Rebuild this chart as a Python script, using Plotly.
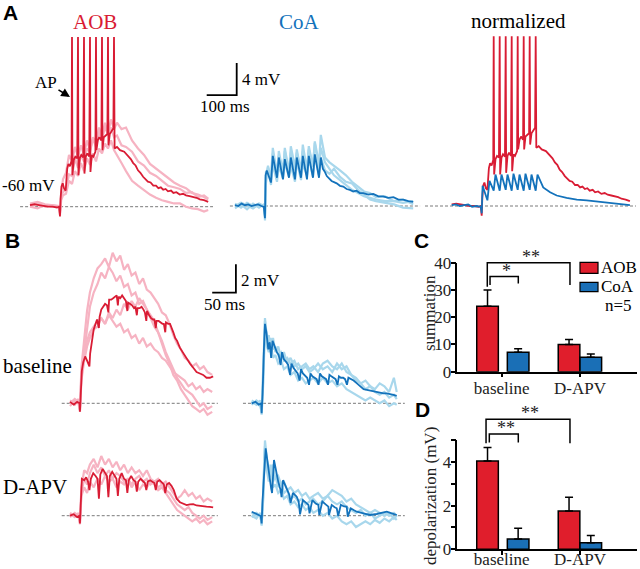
import plotly.graph_objects as go

W, H = 640, 569
SERIF = "Liberation Serif"
SANS = "Liberation Sans"

RED = "#d91c34"
PINK = "#f6b3c2"
BLUE = "#1372bb"
SKY = "#a8d7ec"
BAR_RED = "#e01e2c"
BAR_BLUE = "#1a6fb6"
GREY = "#7a7a7a"

# ---------------- A: 10 pulses at 50 Hz (t in ms from trace start, v in mV above -60 mV)
a_spike_times = [140, 160, 180, 200, 220, 240, 260, 280]
a_spike_peak = 21.0

a_aob_t = [0, 15, 30, 45, 60, 75, 90, 97, 100, 102, 105, 109, 114, 119, 121, 124, 128, 133, 138.5,
           141.5, 146, 151, 157.5, 161.5, 166, 171, 177.5, 181.5, 186, 191, 197.5, 201.5, 206, 211, 218,
           221.5, 226, 231, 238, 241.5, 246, 251, 258, 261.5, 266, 271, 278, 282, 290, 300, 314, 328,
           336, 344, 352, 360, 368, 377, 385, 393, 402, 411, 420, 428, 436, 444, 452, 460, 470, 478,
           488, 499, 510, 520, 532, 544, 555, 566, 580, 594]
a_aob_v = [0.2, 0.3, 0.2, 0.1, 0.0, 0.0, -0.1, 0.0, -1.2, 1.0, 2.5, 2.9, 2.2, 2.0, 3.2, 4.7, 5.3, 5.0, 5.7,
           3.9, 5.8, 6.2, 6.0, 3.9, 6.0, 6.4, 6.1, 4.1, 6.2, 6.6, 6.2, 4.3, 6.4, 6.2, 6.8,
           7.0, 8.2, 8.6, 8.2, 7.0, 8.6, 8.8, 9.0, 7.6, 9.0, 9.3, 9.7, 7.2, 7.4, 7.0, 6.8, 6.2,
           5.9, 5.4, 5.1, 4.5, 4.2, 3.7, 3.4, 3.1, 3.0, 2.6, 2.6, 2.3, 2.4, 2.1, 2.2, 1.9, 2.0, 1.7,
           1.8, 1.5, 1.6, 1.4, 1.3, 1.2, 1.1, 0.9, 0.8, 0.6]

a_aob_light_t = [0, 25, 50, 75, 97, 100, 104, 110, 120, 130, 140, 150, 160, 170, 180, 190, 200, 210,
                 220, 230, 240, 250, 260, 270, 280, 290, 305, 320, 340, 360, 380, 400, 420, 440, 460,
                 480, 500, 520, 540, 560, 580, 594]
a_aob_light = [
    [0.4, 0.6, 0.3, 0.2, 0.1, -0.6, 1.8, 3.4, 4.2, 6.4, 5.6, 7.4, 6.2, 7.6, 6.4, 8.2, 7.0, 8.6,
     7.8, 9.8, 8.6, 10.4, 9.0, 10.8, 9.6, 10.4, 9.6, 9.8, 8.2, 7.2, 6.4, 5.3, 4.7, 4.1, 3.6,
     3.0, 2.6, 2.3, 1.7, 1.5, 1.2, 0.9],
    [0.0, -0.2, 0.2, 0.0, 0.1, -1.0, 1.4, 1.8, 2.2, 4.0, 3.8, 6.0, 4.8, 6.4, 5.6, 7.2, 6.8, 8.4,
     7.4, 9.2, 8.4, 9.8, 9.0, 9.8, 8.6, 8.8, 7.6, 7.4, 6.8, 5.6, 5.1, 4.2, 3.8, 3.2, 2.6,
     2.4, 2.2, 1.7, 1.8, 1.2, 1.4, 1.0],
    [0.2, 0.4, 0.0, 0.2, 0.0, -0.8, 0.8, 1.4, 1.6, 3.2, 2.8, 4.4, 3.8, 5.4, 4.4, 6.0, 5.2, 6.6,
     5.6, 7.2, 6.6, 7.8, 7.2, 8.2, 7.0, 6.4, 5.4, 4.4, 3.2, 2.6, 2.0, 1.5, 1.1, 0.8, 0.6,
     0.4, 0.4, 0.0, -0.2, -0.3, -0.6, -0.4],
]

a_coa_t = [0, 11, 22, 33, 44, 55, 66, 77, 88, 96, 100, 102, 106, 110, 116, 120, 126, 133, 140, 146,
           153, 160, 166, 173, 180, 186, 193, 200, 206, 213, 220, 226, 233, 240, 246, 253, 260, 266,
           273, 280, 286, 293, 300, 306, 322, 339, 350, 361, 372, 383, 394, 405, 416, 428, 444, 461,
           478, 494, 511, 528, 545, 561, 578, 594]
a_coa_v = [0.1, 0.0, 0.3, 0.1, 0.2, 0.0, 0.1, 0.2, 0.0, -0.1, -1.5, 3.8, 4.4, 4.0, 3.2, 2.9, 6.2, 4.6,
           3.5, 6.0, 4.4, 3.3, 5.8, 4.4, 3.5, 6.0, 4.5, 3.3, 6.0, 4.6, 3.5, 6.2, 4.6, 3.3, 6.2, 4.6,
           3.5, 6.4, 4.8, 3.5, 6.0, 4.6, 4.2, 3.7, 3.1, 2.8, 2.5, 2.4, 2.1, 2.0, 1.8, 1.9, 1.6, 1.6,
           1.4, 1.5, 1.2, 1.2, 1.0, 1.1, 0.8, 0.8, 0.6, 0.5]

a_coa_light_t = [0, 20, 40, 60, 80, 96, 100, 103, 110, 120, 126, 140, 146, 160, 166, 180, 186, 200,
                 206, 220, 226, 240, 246, 260, 266, 280, 286, 300, 315, 330, 350, 370, 390, 410,
                 430, 450, 470, 500, 530, 560, 594]
a_coa_light = [
    [0.3, -0.2, 0.4, 0.0, 0.3, 0.0, -1.2, 3.5, 5.0, 3.0, 6.5, 3.8, 6.8, 4.0, 7.2, 4.2, 6.6, 4.4,
     7.0, 4.2, 6.8, 4.6, 7.4, 4.8, 8.0, 5.2, 8.8, 6.0, 5.4, 5.0, 4.4, 3.8, 3.0, 2.4, 1.8, 1.6,
     1.1, 1.2, 0.6, 0.8, 0.2],
    [-0.3, 0.2, -0.4, 0.3, -0.2, 0.2, -1.8, 4.2, 4.5, 2.6, 5.2, 3.0, 5.0, 3.4, 5.4, 3.6, 5.0, 3.0,
     5.6, 3.2, 5.2, 3.8, 6.0, 3.6, 6.4, 3.8, 6.0, 4.4, 4.0, 4.6, 3.6, 3.0, 2.8, 2.0, 1.4, 0.8,
     0.6, 0.4, 0.2, -0.2, -0.3],
    [0.0, 0.4, 0.1, -0.3, 0.2, 0.0, -1.0, 2.8, 4.8, 3.6, 7.2, 4.0, 6.2, 4.6, 6.8, 4.0, 7.4, 4.8,
     6.6, 4.4, 7.6, 4.4, 7.0, 5.0, 7.8, 4.6, 7.2, 5.4, 4.6, 3.8, 3.2, 2.6, 2.0, 1.6, 1.2, 1.0,
     0.8, 0.6, 0.6, 0.4, 0.6],
]

# normalized panel: AOB is its own reference, CoA scaled to the AOB first EPSP
a_norm_coa_t = [0, 14, 27, 41, 55, 68, 82, 97, 100, 103, 110, 119, 126, 133, 140, 146, 153, 160, 166,
                173, 180, 186, 193, 200, 206, 213, 220, 226, 233, 240, 246, 253, 260, 266, 273, 280,
                286, 295, 305, 328, 350, 383, 417, 450, 494, 538, 594]
a_norm_coa_v = [0.1, 0.2, 0.0, 0.1, 0.2, -0.1, 0.0, -0.1, -0.9, 2.5, 1.6, 0.7, 3.1, 2.6, 1.9, 3.9,
                2.9, 1.9, 3.9, 2.9, 2.0, 3.9, 2.9, 1.9, 4.0, 3.0, 2.0, 3.9, 2.9, 1.9, 4.0, 3.0, 2.0,
                3.9, 2.9, 1.9, 3.9, 3.1, 2.3, 1.7, 1.3, 1.0, 0.8, 0.7, 0.5, 0.3, 0.1]

# ---------------- B: baseline vs D-APV (t in ms, v in mV)
b_aob_base_t = [0, 8, 15, 20, 21, 22.5, 25, 28, 32, 36, 41, 42.5, 46, 50, 54, 57, 61, 62.5, 66, 70,
                74, 78, 81, 82.5, 87, 91, 95, 98.5, 101, 102.5, 106, 110, 114, 118, 121, 122.5, 127,
                131, 135, 138, 141, 142.5, 147, 151, 155, 158, 161, 162.5, 167, 171, 175, 178, 181,
                182.5, 187, 191, 195, 198, 201, 202.5, 207, 211, 215, 218, 222, 226, 232, 239, 246,
                253, 260, 267, 274, 281, 288, 295, 302]
b_aob_base_v = [0.1, -0.1, 0.1, 0.0, -0.6, 1.0, 2.3, 2.9, 3.3, 3.0, 2.6, 3.5, 4.4, 5.2, 5.6, 5.9, 5.3,
                6.1, 6.6, 6.8, 7.0, 6.9, 6.4, 7.3, 7.3, 7.4, 7.5, 7.6, 6.9, 7.5, 7.4, 7.6, 7.4, 7.2,
                6.5, 7.1, 7.0, 6.9, 6.7, 6.8, 6.2, 6.7, 6.7, 6.8, 6.6, 6.4, 5.8, 6.5, 6.2, 6.0, 5.9,
                5.9, 5.3, 5.8, 5.8, 5.7, 5.6, 5.6, 5.0, 5.7, 5.6, 5.6, 5.3, 5.0, 4.6, 4.4, 3.9, 3.5,
                3.1, 2.8, 2.5, 2.2, 2.1, 2.0, 1.8, 1.8, 1.9]

b_aob_apv_t = [0, 8, 15, 20, 21, 22.5, 25, 30, 34, 38, 41, 44, 49, 54, 58, 61, 64, 69, 74, 78, 81,
               84, 89, 94, 98, 101, 104, 109, 114, 118, 121, 124, 129, 134, 138, 141, 144, 149, 154,
               158, 161, 164, 169, 174, 178, 181, 184, 189, 194, 198, 201, 204, 209, 214, 219, 225,
               232, 239, 246, 253, 260, 267, 274, 281, 288, 295, 302]
b_aob_apv_v = [0.0, 0.1, -0.1, 0.0, -0.55, 1.0, 2.6, 2.5, 2.7, 2.4, 1.8, 2.6, 3.0, 2.8, 2.6, 1.2, 2.9,
               3.3, 3.0, 2.8, 1.3, 2.8, 3.1, 2.8, 2.6, 1.4, 2.6, 3.0, 2.6, 2.5, 1.6, 2.5, 2.8, 2.5,
               2.4, 1.7, 2.4, 2.6, 2.4, 2.3, 1.8, 2.4, 2.5, 2.4, 2.3, 1.8, 2.4, 2.5, 2.3, 2.2, 1.6,
               2.2, 2.3, 2.1, 1.8, 1.2, 0.95, 0.85, 0.75, 0.8, 0.82, 0.72, 0.68, 0.66, 0.64, 0.62,
               0.59]

b_aob_light_t = [0, 10, 18, 21, 24, 30, 36, 42, 50, 58, 66, 74, 82, 90, 98, 106, 114, 122, 130, 138,
                 146, 154, 162, 170, 178, 186, 194, 202, 210, 218, 226, 234, 242, 250, 258, 266,
                 274, 282, 290, 300]
b_aob_base_light = [
    [0.2, 0.0, 0.3, -0.5, 2.5, 4.5, 6.5, 7.8, 8.8, 9.5, 9.8, 10.2, 9.6, 10.6, 10.0, 10.4, 9.4, 9.8,
     9.0, 9.2, 8.4, 8.8, 8.0, 7.8, 7.4, 7.0, 6.4, 6.2, 5.6, 4.8, 4.2, 3.8, 3.2, 3.0, 2.6, 2.8,
     2.4, 2.6, 2.2, 2.0],
    [0.0, 0.3, 0.1, -0.4, 2.0, 3.8, 5.2, 6.8, 7.8, 8.4, 9.2, 8.8, 9.6, 9.2, 8.6, 9.0, 8.2, 8.4,
     7.6, 7.8, 7.0, 7.2, 6.6, 6.0, 5.4, 5.0, 4.4, 3.6, 3.0, 2.4, 1.8, 1.4, 1.0, 0.8, 0.6, 0.2,
     -0.2, 0.0, -0.4, -0.2],
    [-0.2, 0.2, 0.0, -0.6, 1.6, 3.0, 4.0, 4.6, 5.2, 5.4, 6.0, 5.6, 6.4, 6.0, 6.6, 6.2, 7.0, 6.6,
     7.2, 6.8, 7.4, 7.0, 6.6, 6.2, 5.8, 5.0, 4.2, 3.4, 2.8, 2.0, 1.6, 1.0, 0.6, 0.2, -0.2, -0.4,
     -0.6, -0.4, -0.8, -0.6],
    [0.1, -0.1, 0.2, -0.5, 1.8, 3.4, 4.4, 5.0, 5.4, 5.8, 6.0, 5.6, 6.2, 5.8, 5.4, 5.6, 5.0, 5.2,
     4.6, 4.8, 4.2, 4.6, 4.0, 4.2, 3.8, 3.6, 3.2, 3.0, 2.6, 2.2, 2.0, 1.8, 1.6, 1.2, 1.4, 1.0,
     1.2, 0.8, 1.0, 0.8],
]
b_aob_apv_light = [
    [0.1, -0.1, 0.2, -0.5, 2.0, 3.2, 3.0, 3.6, 4.0, 3.4, 4.2, 3.6, 4.0, 3.4, 3.8, 3.2, 3.6, 3.0,
     3.4, 3.0, 3.2, 2.8, 3.2, 2.6, 2.4, 2.6, 2.2, 2.4, 2.0, 1.6, 1.2, 1.4, 1.8, 1.4, 1.6, 1.2,
     1.4, 1.0, 1.2, 1.0],
    [-0.1, 0.2, 0.0, -0.6, 1.4, 2.0, 1.6, 2.4, 2.0, 2.6, 2.2, 2.8, 2.4, 2.6, 2.0, 2.4, 2.2, 2.6,
     2.0, 2.4, 1.8, 2.2, 2.0, 2.4, 2.2, 1.8, 2.0, 1.6, 1.2, 0.8, 0.4, 0.2, 0.0, -0.2, -0.4, -0.2,
     -0.5, -0.3, -0.6, -0.4],
    [0.2, 0.0, 0.1, -0.4, 1.6, 2.6, 2.2, 3.0, 3.6, 3.0, 3.4, 2.8, 3.2, 2.6, 3.0, 2.8, 2.4, 2.6,
     2.2, 2.6, 2.8, 2.4, 2.6, 2.2, 2.4, 2.0, 2.2, 1.8, 1.6, 1.2, 0.8, 0.6, 0.4, 0.6, 0.2, 0.0,
     -0.2, 0.0, -0.3, -0.1],
]

b_coa_base_t = [0, 8, 15, 20, 21, 23, 26, 28, 31, 35, 38, 41, 44, 48, 53, 57, 61, 64, 68, 73, 77, 81,
                84, 88, 93, 97, 101, 104, 108, 113, 117, 121, 124, 128, 133, 137, 141, 144, 148, 153,
                157, 161, 164, 168, 173, 177, 181, 184, 188, 193, 197, 201, 204, 210, 215, 222, 229,
                236, 243, 250, 257, 264, 271, 278, 285, 292, 299, 306]
b_coa_base_v = [0.0, 0.1, -0.1, 0.0, -0.7, 0.7, 4.0, 5.6, 5.0, 3.8, 4.3, 3.2, 4.4, 4.0, 3.6, 3.4, 2.7,
                3.6, 3.1, 2.9, 2.7, 2.0, 2.8, 2.5, 2.3, 2.1, 1.6, 2.4, 2.1, 1.9, 1.8, 1.3, 2.1, 1.9,
                1.8, 1.7, 1.3, 2.1, 1.9, 1.8, 1.7, 1.3, 2.0, 1.9, 1.8, 1.7, 1.3, 1.9, 1.8, 1.8, 1.7,
                1.3, 1.8, 1.7, 1.6, 1.4, 1.2, 1.0, 0.95, 0.9, 0.82, 0.75, 0.7, 0.7, 0.7, 0.62, 0.59,
                0.52]

b_coa_apv_t = [0, 10.5, 19, 21, 23, 29.5, 35, 41, 43, 47, 56, 61, 63, 66, 72, 79, 82, 87, 95, 99, 102,
               108, 115, 119.6, 122, 128, 135, 140.7, 142.5, 149, 156, 161.8, 163, 168.8, 175, 179.4,
               182.5, 188, 195, 200.5, 202.6, 209, 215, 221.6, 235.7, 249.7, 263.8, 277.9, 284.9,
               295.5, 306]
b_coa_apv_v = [0.28, 0.12, -0.02, -0.54, 1.1, 4.75, 3.22, 1.93, 1.6, 3.92, 2.4, 1.8, 1.3, 2.5, 2.04,
               1.5, 0.9, 1.6, 1.34, 1.0, 0.1, 1.1, 0.9, 0.76, 0.17, 1.1, 0.85, 0.76, 0.05, 1.0, 0.8,
               0.64, 0.05, 0.76, 0.6, 0.52, -0.02, 0.76, 0.65, 0.64, -0.07, 0.52, 0.4, 0.28, 0.17,
               0.05, 0.12, 0.21, 0.28, 0.17, 0.05]

b_coa_light_t = [0, 10, 18, 21, 24, 28, 32, 36, 40, 45, 50, 56, 62, 68, 75, 82, 90, 98, 106, 114, 122,
                 130, 140, 150, 160, 170, 180, 190, 200, 210, 220, 230, 240, 250, 260, 270, 280, 290,
                 300, 306]
b_coa_base_light = [
    [0.1, -0.1, 0.2, -0.6, 1.5, 6.0, 4.4, 4.8, 3.8, 4.6, 3.6, 4.0, 3.2, 3.6, 2.8, 3.2, 2.6, 2.8,
     2.4, 2.6, 2.2, 2.4, 2.8, 2.4, 2.6, 2.2, 2.8, 2.4, 2.6, 2.0, 1.6, 1.4, 1.0, 1.2, 0.8, 0.6,
     0.8, 0.4, 0.6, 0.3],
    [-0.1, 0.2, 0.0, -0.8, 1.2, 5.2, 4.0, 3.6, 4.2, 3.2, 3.4, 2.8, 3.0, 2.4, 2.6, 2.0, 2.2, 1.6,
     1.8, 1.4, 1.6, 1.8, 1.4, 1.8, 1.4, 1.6, 1.2, 1.4, 1.0, 0.8, 0.6, 0.4, 0.2, 0.4, 0.2, 0.0,
     0.2, -0.2, 0.0, -0.1],
    [0.2, 0.0, -0.2, -0.5, 1.8, 5.8, 4.8, 4.2, 4.6, 3.8, 4.0, 3.4, 3.6, 3.0, 3.2, 2.8, 3.0, 2.4,
     2.6, 2.8, 2.4, 2.6, 2.2, 2.8, 3.0, 2.6, 2.4, 2.8, 2.2, 2.0, 1.8, 1.4, 1.6, 1.2, 1.0, 1.4,
     1.2, 0.8, 1.8, 0.8],
]
b_coa_apv_light = [
    [0.2, 0.0, 0.1, -0.6, 1.4, 5.3, 4.0, 3.4, 2.8, 3.6, 2.6, 2.8, 2.2, 2.4, 1.8, 2.0, 1.6, 1.8,
     1.4, 1.6, 1.2, 1.4, 1.6, 1.2, 1.4, 1.8, 1.6, 1.4, 1.0, 1.2, 0.8, 0.6, 0.4, 0.2, 0.4, 0.2,
     0.0, 0.2, -0.2, 0.0],
    [-0.1, 0.2, 0.0, -0.5, 1.0, 4.6, 3.2, 2.4, 3.4, 2.0, 2.2, 1.6, 1.8, 1.2, 1.4, 0.8, 1.0, 0.6,
     0.8, 0.4, 0.6, 0.2, 0.4, 0.0, 0.2, -0.2, 0.0, -0.4, -0.6, -0.4, -0.8, -0.6, -0.4, -0.6,
     -0.3, -0.5, -0.2, -0.4, -0.1, -0.3],
    [0.0, -0.2, 0.2, -0.7, 1.2, 4.9, 3.6, 2.8, 3.6, 2.4, 2.8, 2.0, 2.4, 1.6, 1.8, 1.2, 1.4, 1.0,
     1.2, 0.8, 1.0, 1.2, 0.8, 1.0, 1.4, 1.0, 0.8, 1.0, 0.6, 0.4, 0.2, 0.4, 0.0, 0.2, -0.2, 0.0,
     0.2, 0.0, 0.2, 0.0],
]

# ---------------- C / D: bar summaries (mean + SEM, n=5)
groups = ["baseline", "D-APV"]
c_aob = [24.0, 10.0]
c_aob_err = [6.0, 1.8]
c_coa = [7.1, 5.3]
c_coa_err = [1.3, 1.2]
d_aob = [4.04, 1.75]
d_aob_err = [0.62, 0.63]
d_coa = [0.47, 0.30]
d_coa_err = [0.49, 0.33]

# brackets: (left x, right x, top, left foot, right foot, stars) in category units / data values
c_brackets = [(-0.184, 0.872, 40.0, 31.2, 31.8, "**"), (-0.149, 0.212, 34.9, 31.8, 32.4, "*")]
d_brackets = [(-0.200, 0.872, 5.95, 4.85, 4.85, "**"), (-0.158, 0.212, 5.27, 4.88, 4.88, "**")]


def with_spikes(t, v, spikes, peak):
    pts = sorted(list(zip(t, v)) + [(s, peak) for s in spikes])
    return [p[0] for p in pts], [p[1] for p in pts]


fig = go.Figure()
layout = {}


def sfx(n):
    return "" if n == 1 else str(n)


def trace_axes(n, left, right, top, bottom, t0_px, base_py, px_ms, px_mv):
    s = sfx(n)
    layout["xaxis" + s] = dict(domain=[left / W, right / W], anchor="y" + s, visible=False,
                               automargin=False,
                               range=[(left - t0_px) / px_ms, (right - t0_px) / px_ms])
    layout["yaxis" + s] = dict(domain=[1 - bottom / H, 1 - top / H], anchor="x" + s, visible=False,
                               automargin=False,
                               range=[(base_py - bottom) / px_mv, (base_py - top) / px_mv])


def line(n, t, v, color, width, dash="solid"):
    s = sfx(n)
    fig.add_trace(go.Scatter(x=t, y=v, mode="lines", line=dict(color=color, width=width, dash=dash),
                             xaxis="x" + s, yaxis="y" + s, hoverinfo="skip", showlegend=False))


def baseline(n, t_start, t_end):
    line(n, [t_start, t_end], [0, 0], GREY, 1, "3px,2px")


def scale_bar(n, t0, v0, dt, dv):
    line(n, [t0, t0 + dt, t0 + dt], [v0, v0, v0 + dv], "black", 1.8)


# A axes: 0.30 px per ms, 8.08 px per mV
trace_axes(1, 15, 245, 28, 226, 30, 206.7, 0.30, 8.08)
trace_axes(2, 228, 425, 28, 226, 235, 206.0, 0.30, 8.08)
trace_axes(3, 422, 638, 28, 226, 451.7, 206.0, 0.30, 8.08)
# B axes: 0.474 px per ms, 14.2 px per mV
trace_axes(4, 50, 245, 238, 422, 70, 403.3, 0.474, 14.2)
trace_axes(5, 238, 412, 238, 422, 251.7, 403.3, 0.474, 14.2)
trace_axes(6, 50, 245, 425, 545, 70, 515.7, 0.474, 14.2)
trace_axes(7, 238, 412, 425, 545, 251.7, 515.7, 0.474, 14.2)

# panel A
aob_t, aob_v = with_spikes(a_aob_t, a_aob_v, a_spike_times, a_spike_peak)

baseline(1, -33, 610)
for vals in a_aob_light:
    line(1, a_aob_light_t, vals, PINK, 2.2)
line(1, aob_t, aob_v, RED, 1.8)
scale_bar(1, 589, 13.8, 100, 4)

baseline(2, -17, 617)
for vals in a_coa_light:
    line(2, a_coa_light_t, vals, SKY, 2.2)
line(2, a_coa_t, a_coa_v, BLUE, 1.8)

baseline(3, -89, 614)
line(3, aob_t, aob_v, RED, 1.8)
line(3, a_norm_coa_t, a_norm_coa_v, BLUE, 1.8)

# panel B
baseline(4, -17.5, 312)
for vals in b_aob_base_light:
    line(4, b_aob_light_t, vals, PINK, 2.2)
line(4, b_aob_base_t, b_aob_base_v, RED, 1.8)
scale_bar(4, 300, 7.8, 50, 2)

baseline(5, -18.4, 323)
for vals in b_coa_base_light:
    line(5, b_coa_light_t, vals, SKY, 2.2)
line(5, b_coa_base_t, b_coa_base_v, BLUE, 1.8)

baseline(6, -17.5, 312)
for vals in b_aob_apv_light:
    line(6, b_aob_light_t, vals, PINK, 2.2)
line(6, b_aob_apv_t, b_aob_apv_v, RED, 1.8)

baseline(7, -18.4, 323)
for vals in b_coa_apv_light:
    line(7, b_coa_light_t, vals, SKY, 2.2)
line(7, b_coa_apv_t, b_coa_apv_v, BLUE, 1.8)


# panels C and D
def bars(n, aob, aob_err, coa, coa_err):
    s = sfx(n)
    for vals, err, col, off in [(aob, aob_err, BAR_RED, [-0.319, -0.278]),
                                (coa, coa_err, BAR_BLUE, [0.072, 0.0])]:
        fig.add_trace(go.Bar(
            x=groups, y=vals, width=0.276, offset=off, xaxis="x" + s, yaxis="y" + s,
            marker=dict(color=col, line=dict(color="black", width=1.5)),
            error_y=dict(type="data", array=err, arrayminus=[0] * len(err), symmetric=False,
                         color="black", thickness=1.5, width=4),
            hoverinfo="skip", showlegend=False))


bars(8, c_aob, c_aob_err, c_coa, c_coa_err)
bars(9, d_aob, d_aob_err, d_coa, d_coa_err)

axis_font = dict(family=SERIF, size=17, color="#222")
x_bar = dict(type="category", range=[-0.567, 1.728], showline=True, linecolor="black", linewidth=1.5,
             ticks="outside", ticklen=4, tickwidth=1.5, tickcolor="black", showgrid=False,
             zeroline=False, tickfont=dict(family=SERIF, size=17, color="#222"), fixedrange=True,
             automargin=False)
layout["xaxis8"] = dict(x_bar, domain=[457.3 / W, 637 / W], anchor="y8", ticklabelstandoff=-4)
layout["xaxis9"] = dict(x_bar, domain=[457.3 / W, 637 / W], anchor="y9", ticklabelstandoff=-10)
y_bar = dict(showline=True, linecolor="black", linewidth=1.5, ticks="outside", ticklen=5,
             tickwidth=1.5, tickcolor="black", showgrid=False, zeroline=False, tickfont=axis_font,
             fixedrange=True, automargin=False, ticklabelstandoff=-4)
layout["yaxis8"] = dict(y_bar, domain=[1 - 371.7 / H, 1 - 262.7 / H], anchor="x8", range=[0, 40],
                        tickvals=[0, 10, 20, 30, 40])
layout["yaxis9"] = dict(y_bar, domain=[1 - 549.3 / H, 1 - 440 / H], anchor="x9", range=[0, 5],
                        tickvals=[0, 1, 2, 3, 4, 5], ticktext=["0", "", "2", "", "4", ""])

# bracket layers share the bar x scale but extend above the bar axes
layout["xaxis10"] = dict(domain=[457.3 / W, 637 / W], range=[-0.567, 1.728], visible=False,
                         anchor="y10", automargin=False)
layout["yaxis10"] = dict(domain=[1 - 371.7 / H, 1 - 225 / H], range=[0, (371.7 - 225) / 109.0 * 40],
                         visible=False, anchor="x10", automargin=False)
layout["xaxis11"] = dict(domain=[457.3 / W, 637 / W], range=[-0.567, 1.728], visible=False,
                         anchor="y11", automargin=False)
layout["yaxis11"] = dict(domain=[1 - 549.3 / H, 1 - 395 / H], range=[0, (549.3 - 395) / 109.3 * 5],
                         visible=False, anchor="x11", automargin=False)

annotations = []


def brackets(n, items, star_dy):
    s = sfx(n)
    xs, ys = [], []
    for xl, xr, top, fl, fr, stars in items:
        xs += [xl, xl, xr, xr, None]
        ys += [fl, top, top, fr, None]
        annotations.append(dict(x=(xl + xr) / 2 + 0.03, y=top, xref="x" + s, yref="y" + s, text=stars,
                                showarrow=False, yanchor="bottom", yshift=star_dy,
                                font=dict(family=SERIF, size=18, color="#222")))
    line(n, xs, ys, "black", 1.5)


brackets(10, c_brackets, -6)
brackets(11, d_brackets, -6)


def note(text, px, py, size, color="black", family=SERIF, xanchor="center", **kw):
    annotations.append(dict(text=text, x=px / W, y=1 - py / H, xref="paper", yref="paper",
                            showarrow=False, xanchor=xanchor, yanchor="middle",
                            font=dict(family=family, size=size, color=color), **kw))


for letter, px, py in [("A", 10, 13), ("B", 12, 241), ("C", 421, 241), ("D", 422, 409)]:
    note("<b>%s</b>" % letter, px, py, 21, family=SANS)

note("AOB", 95, 22, 21, RED)
note("CoA", 299, 22, 21, BLUE)
note("normalized", 518, 21, 21)
note("-60 mV", 28, 186, 17)
note("4 mV", 240, 79, 17, xanchor="left")
note("100 ms", 225, 107, 17)
note("2 mV", 239, 280, 17, xanchor="left")
note("50 ms", 224, 304, 17)
note("baseline", 37, 366, 21)
note("D-APV", 35, 487, 21)
note("AOB", 599, 267, 17, xanchor="left")
note("CoA", 599, 286, 17, xanchor="left")
note("n=5", 618, 305, 17)
note("summation", 429, 313, 17, color="#222", textangle=-90)
note("depolarization (mV)", 430, 496, 17, color="#222", textangle=-90)
annotations.append(dict(text="AP", x=70 / W, y=1 - 97 / H, xref="paper", yref="paper",
                        ax=-24, ay=-15, showarrow=True, arrowhead=2, arrowsize=1.1, arrowwidth=1.6,
                        arrowcolor="black", font=dict(family=SERIF, size=17, color="black")))

shapes = []
for col, top, bottom in [(BAR_RED, 262.3, 273.3), (BAR_BLUE, 282.3, 291.7)]:
    shapes.append(dict(type="rect", xref="paper", yref="paper", x0=580 / W, x1=598 / W,
                       y0=1 - bottom / H, y1=1 - top / H, fillcolor=col,
                       line=dict(color="black", width=1.2)))

fig.update_layout(**layout)
fig.update_layout(width=W, height=H, margin=dict(l=0, r=0, t=0, b=0, pad=0, autoexpand=False),
                  paper_bgcolor="white", plot_bgcolor="rgba(0,0,0,0)", barmode="overlay",
                  annotations=annotations, shapes=shapes, showlegend=False)
# the page body keeps the browser's default 8px margin otherwise
fig.write_html("out.html", config={"displayModeBar": False},
               post_script="document.body.style.margin = '0px';")
